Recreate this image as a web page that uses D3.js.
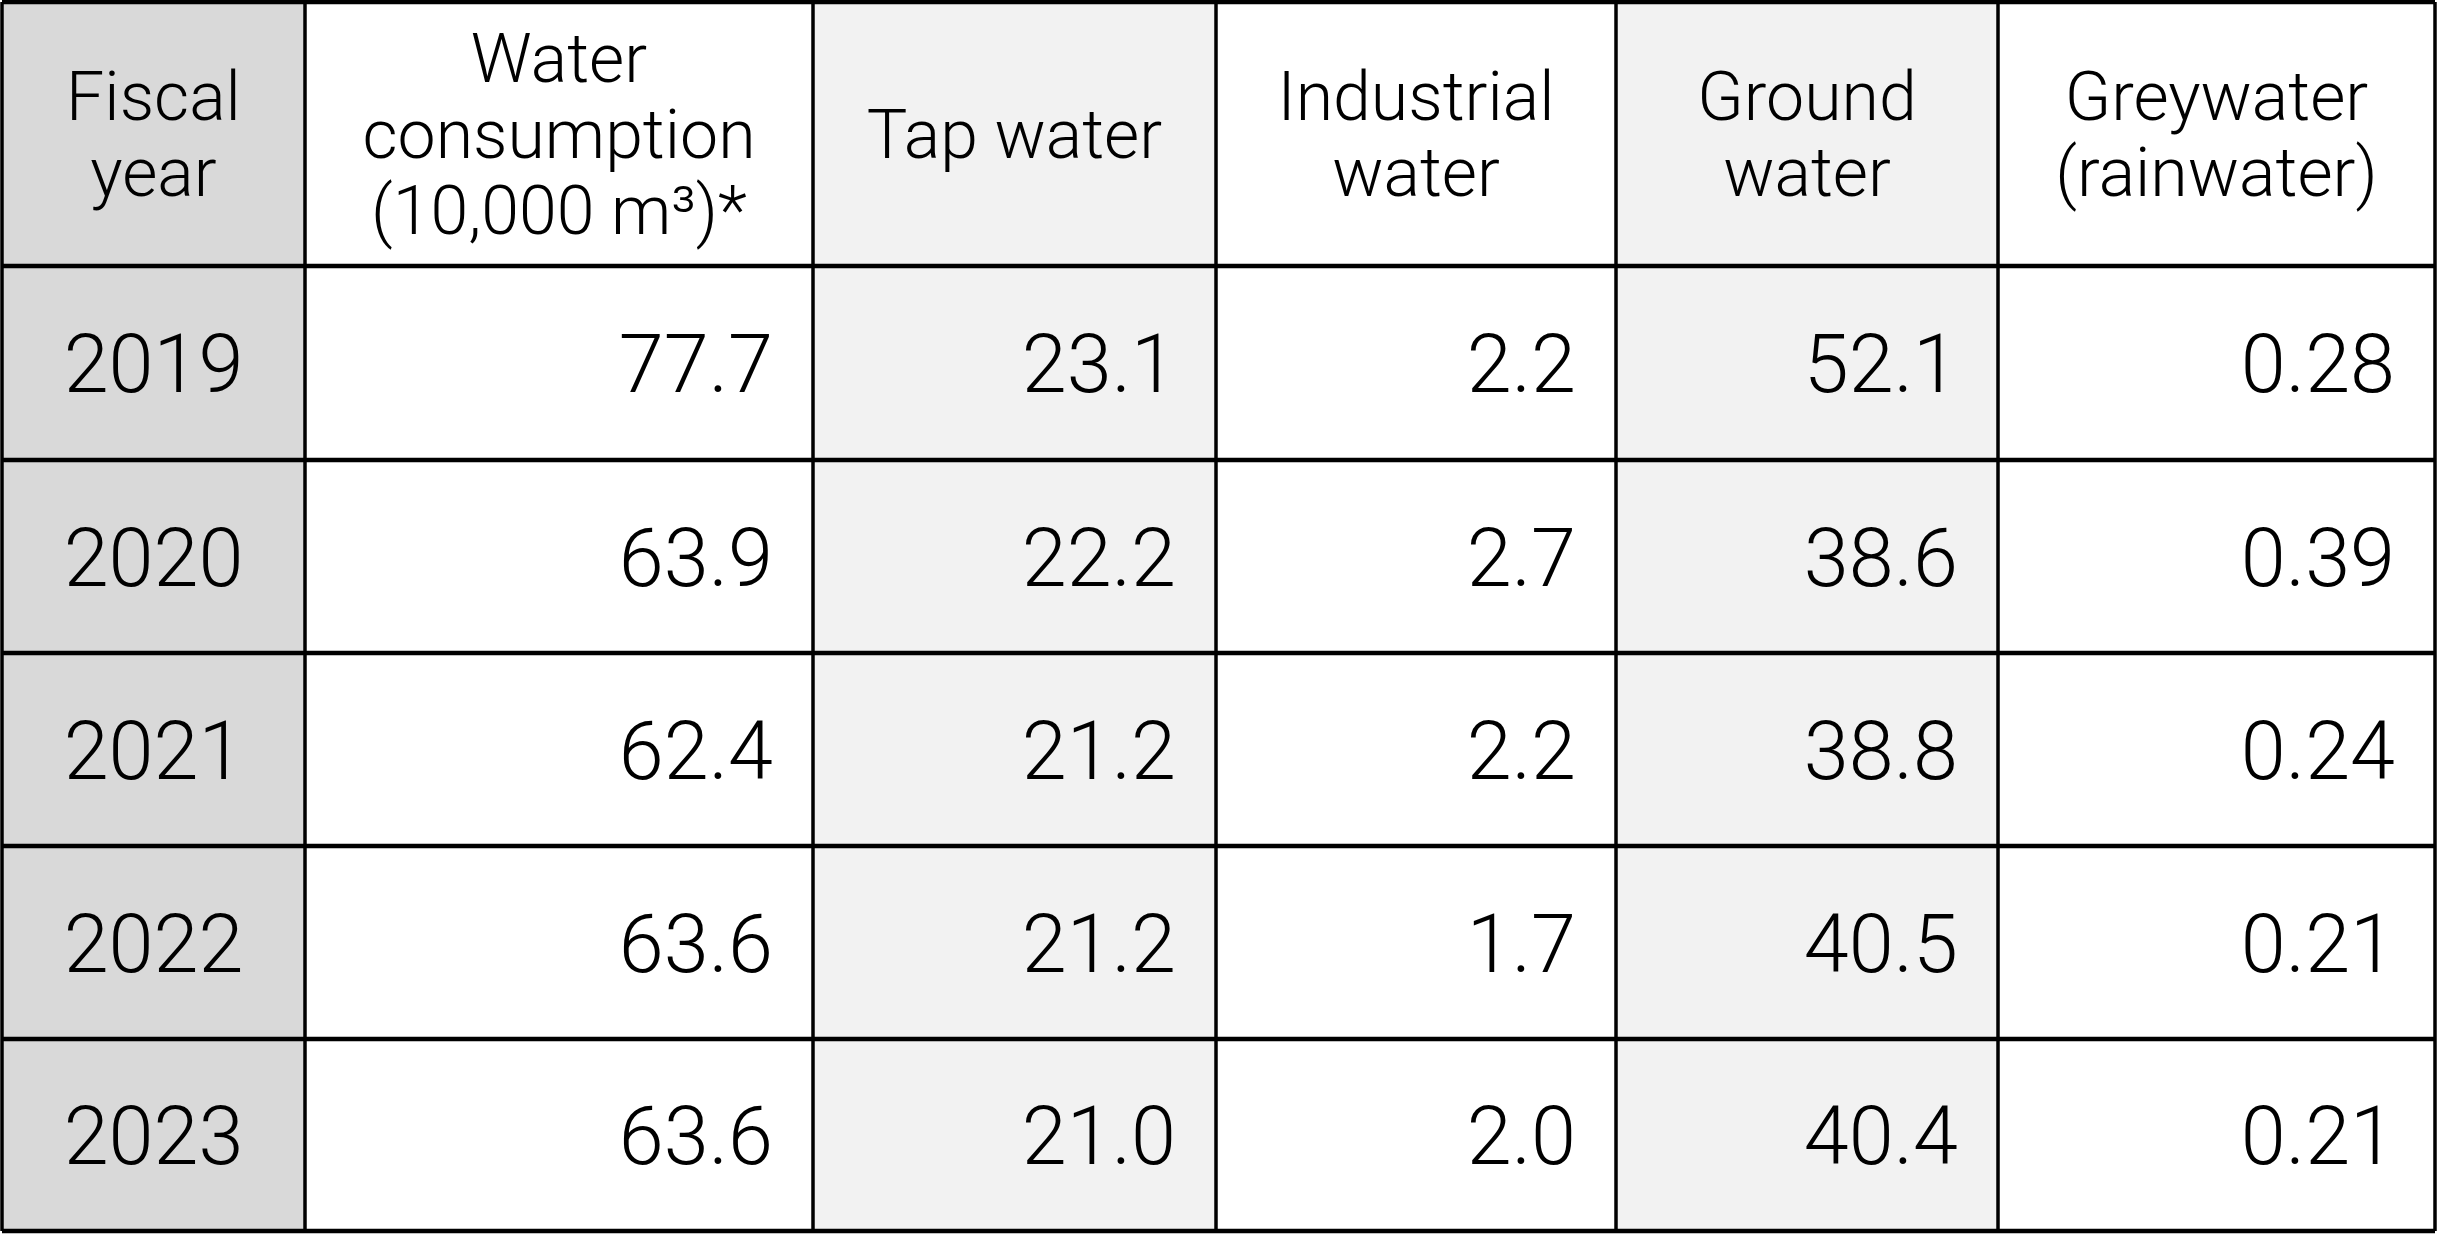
<!DOCTYPE html>
<html>
<head>
<meta charset="utf-8">
<script src="https://cdn.jsdelivr.net/npm/d3@7"></script>
<style>
  body { margin: 0; background: #fff; }
  text { font-family: Roboto, "Noto Sans", sans-serif; font-weight: 300; fill: #000; }
</style>
</head>
<body>
<svg id="chart" width="2438" height="1235"></svg>
<script>
// Table contents
const headers = [
    ["Fiscal", "year"],
    ["Water", "consumption", "(10,000 m³)*"],
    ["Tap water"],
    ["Industrial", "water"],
    ["Ground", "water"],
    ["Greywater", "(rainwater)"]
];
const years = ["2019", "2020", "2021", "2022", "2023"];
const consumption = ["77.7", "63.9", "62.4", "63.6", "63.6"];
const tapWater = ["23.1", "22.2", "21.2", "21.2", "21.0"];
const industrialWater = ["2.2", "2.7", "2.2", "1.7", "2.0"];
const groundWater = ["52.1", "38.6", "38.8", "40.5", "40.4"];
const greyWater = ["0.28", "0.39", "0.24", "0.21", "0.21"];

const columns = [years, consumption, tapWater, industrialWater, groundWater, greyWater];
const colFills = ["#d9d9d9", "#ffffff", "#f2f2f2", "#ffffff", "#f2f2f2", "#ffffff"];

// Column edges and row edges (pixels)
const colEdges = [2, 305, 813, 1216, 1616, 1998, 2435];
const rowEdges = [2, 266, 460, 653, 846, 1039, 1231];

const svg = d3.select("#chart");

/**
 * Draws cell backgrounds for every column.
 */
svg.selectAll("rect.col")
    .data(columns)
    .join("rect")
    .attr("class", "col")
    .attr("x", (d, i) => colEdges[i])
    .attr("y", rowEdges[0])
    .attr("width", (d, i) => colEdges[i + 1] - colEdges[i])
    .attr("height", rowEdges[rowEdges.length - 1] - rowEdges[0])
    .attr("fill", (d, i) => colFills[i]);

// Header text, centred, multi-line
headers.forEach((lines, i) => {
    const cx = (colEdges[i] + colEdges[i + 1]) / 2;
    const cy = (rowEdges[0] + rowEdges[1]) / 2;
    const lh = 76;
    const t = svg.append("text")
        .attr("text-anchor", "middle")
        .attr("font-size", 68);
    lines.forEach((line, j) => {
        t.append("tspan")
            .attr("x", cx)
            .attr("y", cy + (j - (lines.length - 1) / 2) * lh + 24)
            .text(line);
    });
});

// Body values
columns.forEach((vals, i) => {
    svg.selectAll(null)
        .data(vals)
        .join("text")
        .attr("font-size", 81)
        .attr("text-anchor", i === 0 ? "middle" : "end")
        .attr("x", i === 0 ? (colEdges[0] + colEdges[1]) / 2 : colEdges[i + 1] - 40)
        .attr("y", (d, r) => (rowEdges[r + 1] + rowEdges[r + 2]) / 2 + 29)
        .text(d => d);
});

// Grid lines
svg.selectAll("line.h")
    .data(rowEdges)
    .join("line")
    .attr("x1", colEdges[0]).attr("x2", colEdges[colEdges.length - 1])
    .attr("y1", d => d).attr("y2", d => d)
    .attr("stroke", "#000").attr("stroke-width", 4.5);

svg.selectAll("line.v")
    .data(colEdges)
    .join("line")
    .attr("y1", rowEdges[0]).attr("y2", rowEdges[rowEdges.length - 1])
    .attr("x1", d => d).attr("x2", d => d)
    .attr("stroke", "#000").attr("stroke-width", 3.5);
</script>
</body>
</html>
